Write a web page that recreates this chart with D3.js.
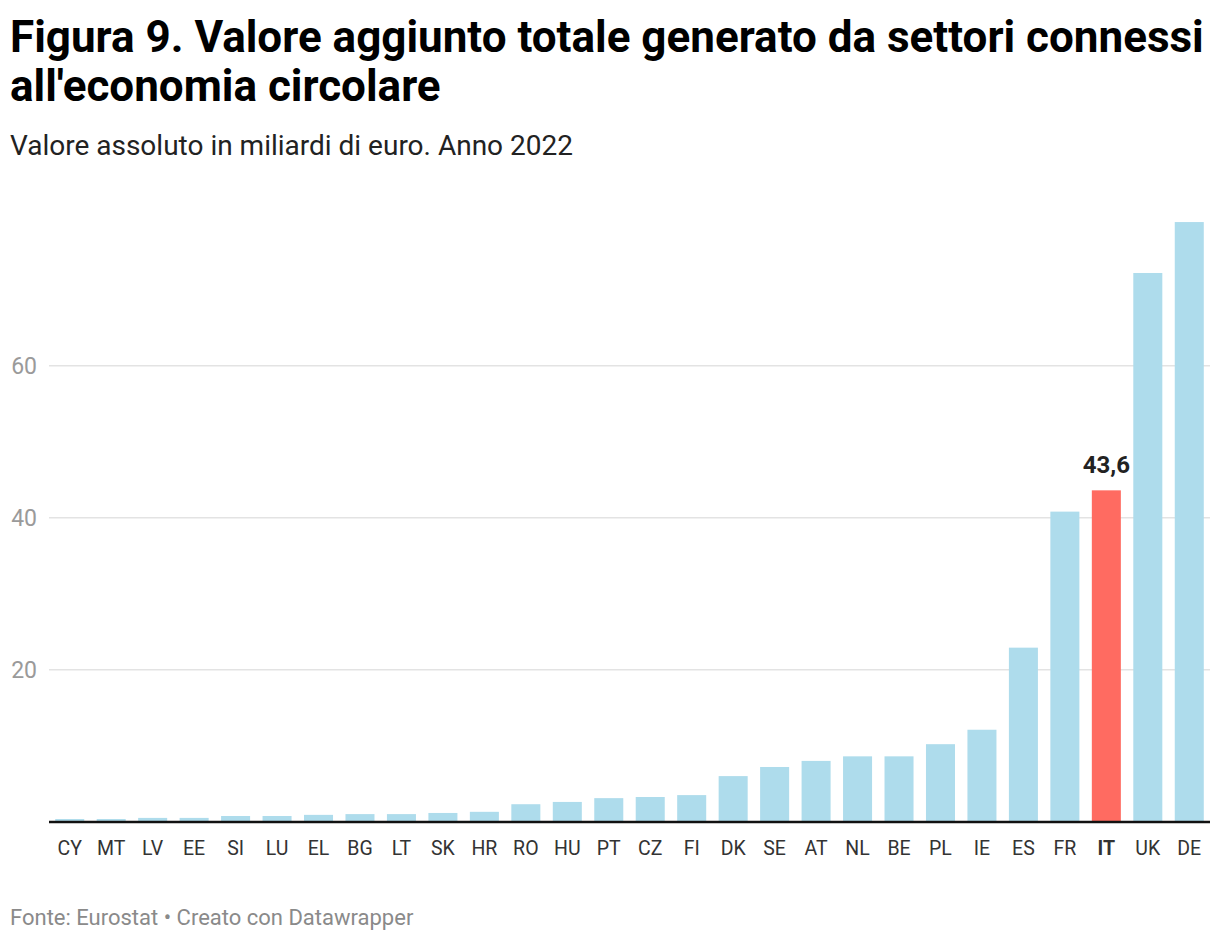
<!DOCTYPE html>
<html>
<head>
<meta charset="utf-8">
<script src="https://cdn.jsdelivr.net/npm/d3@7"></script>
<style>
  body { margin: 0; background: #fff; font-family: Roboto, sans-serif; }
</style>
</head>
<body>
<svg></svg>
<script>
// Data
const countries = ["CY","MT","LV","EE","SI","LU","EL","BG","LT","SK","HR","RO","HU","PT","CZ","FI","DK","SE","AT","NL","BE","PL","IE","ES","FR","IT","UK","DE"];
const values = [0.35,0.35,0.5,0.5,0.75,0.75,0.9,1.0,1.0,1.15,1.3,2.3,2.6,3.1,3.25,3.5,6.0,7.2,8.0,8.6,8.6,10.2,12.1,22.9,40.8,43.6,72.2,78.9];
const yTicks = [20, 40, 60];
const highlight = "IT";

const width = 1220, height = 942;

const svg = d3.select("svg")
    .attr("width", width)
    .attr("height", height);

// Titles
svg.append("text")
    .attr("x", 10).attr("y", 52)
    .style("font-size", "44px").style("font-weight", 700).attr("fill", "#000")
    .text("Figura 9. Valore aggiunto totale generato da settori connessi");
svg.append("text")
    .attr("x", 10).attr("y", 101)
    .style("font-size", "44px").style("font-weight", 700).attr("fill", "#000")
    .text("all'economia circolare");
svg.append("text")
    .attr("x", 10).attr("y", 155)
    .style("font-size", "28px").attr("fill", "#222")
    .text("Valore assoluto in miliardi di euro. Anno 2022");

const data = countries.map((c, i) => ({ c, v: values[i] }));

const x = d3.scaleBand()
    .domain(countries)
    .range([49, 1210])
    .paddingInner(0.3)
    .paddingOuter(0.15);

const y = d3.scaleLinear()
    .domain([0, 80])
    .range([821.7, 821.7 - 80 * 7.6]);

// Gridlines
svg.append("g")
    .selectAll("line")
    .data(yTicks)
    .join("line")
    .attr("x1", 49).attr("x2", 1210)
    .attr("y1", d => y(d)).attr("y2", d => y(d))
    .attr("stroke", "#e3e3e3").attr("stroke-width", 1.5);

svg.append("g")
    .selectAll("text")
    .data(yTicks)
    .join("text")
    .attr("x", 37).attr("y", d => y(d) + 8)
    .attr("text-anchor", "end")
    .style("font-size", "23px").attr("fill", "#9a9a9a")
    .text(d => d);

// Bars
svg.append("g")
    .selectAll("rect")
    .data(data)
    .join("rect")
    .attr("x", d => x(d.c))
    .attr("width", x.bandwidth())
    .attr("y", d => y(d.v))
    .attr("height", d => y(0) - y(d.v))
    .attr("fill", d => d.c === highlight ? "#ff6b61" : "#aedcec");

// Baseline
svg.append("line")
    .attr("x1", 49).attr("x2", 1210)
    .attr("y1", y(0) + 0.3).attr("y2", y(0) + 0.3)
    .attr("stroke", "#111").attr("stroke-width", 2.5);

// X labels
svg.append("g")
    .selectAll("text")
    .data(data)
    .join("text")
    .attr("x", d => x(d.c) + x.bandwidth() / 2)
    .attr("y", 855)
    .attr("text-anchor", "middle")
    .style("font-size", "19.5px")
    .style("font-weight", d => d.c === highlight ? 700 : 400)
    .attr("fill", "#333")
    .text(d => d.c);

// Value label for highlight
const hi = data.find(d => d.c === highlight);
svg.append("text")
    .attr("x", x(hi.c) + x.bandwidth() / 2)
    .attr("y", y(hi.v) - 17)
    .attr("text-anchor", "middle")
    .style("font-size", "24px").style("font-weight", 700).attr("fill", "#222")
    .text(d3.format(".1f")(hi.v).replace(".", ","));

// Footer
svg.append("text")
    .attr("x", 10).attr("y", 925)
    .style("font-size", "22px").attr("fill", "#8a8a8a")
    .text("Fonte: Eurostat • Creato con Datawrapper");
</script>
</body>
</html>
